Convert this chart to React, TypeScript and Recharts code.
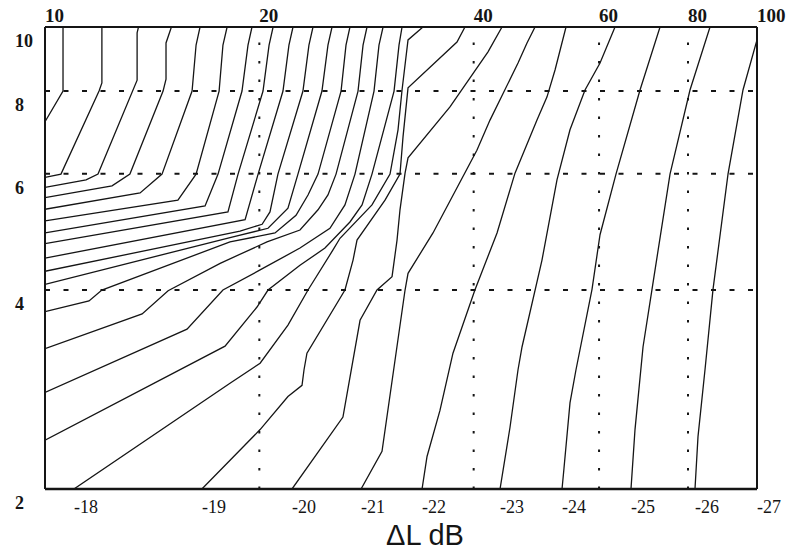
import { LineChart, Line, XAxis, YAxis, ReferenceLine } from "recharts";

// axis ticks
const X_TICKS = [10, 20, 40, 60, 80, 100];
const Y_TICKS = [2, 4, 6, 8, 10];
const GRID_X = [20, 40, 60, 80];
const GRID_Y = [4, 6, 8];

// contour lines of ΔL (dB), each as [x, y] pairs running from the left/bottom edge to the top/right edge
const dL3 = [[10, 7.19], [10.6, 8.0], [10.6, 10]];
const dL4 = [[10, 5.92], [10.53, 5.99], [11.91, 8.0], [12.02, 8.23], [12.02, 10]];
const dL5 = [[10, 5.72], [11.42, 5.87], [11.87, 5.99], [13.47, 8.31], [13.47, 9.8], [13.53, 10]];
const dL6 = [[10, 5.52], [12.42, 5.75], [13.16, 5.99], [14.65, 8.0], [14.79, 8.34], [14.79, 9.46], [15.05, 10]];
const dL7 = [[10, 5.3], [13.6, 5.61], [14.6, 5.99], [16.09, 8.0], [16.3, 9.39], [16.51, 10]];
const dL8 = [[10, 5.09], [15.37, 5.47], [16.3, 5.99], [17.56, 8.0], [17.78, 9.39], [18.02, 10]];
const dL9 = [[10, 4.88], [16.78, 5.36], [17.5, 5.99], [18.91, 8.0], [19.28, 9.39], [19.53, 10]];
const dL10 = [[10, 4.7], [18.07, 5.25], [18.67, 5.99], [20.24, 8.0], [20.64, 9.39], [20.91, 10]];
const dL11 = [[10, 4.47], [19.1, 5.11], [19.92, 5.99], [21.59, 8.0], [22.01, 9.39], [22.3, 10]];
const dL12 = [[10, 4.27], [18.79, 4.91], [20.18, 5.03], [20.7, 5.25], [21.24, 5.99], [23.03, 8.0], [23.48, 9.39], [23.79, 10]];
const dL13 = [[10, 4.08], [18.31, 4.81], [20.57, 4.96], [21.94, 5.32], [22.66, 5.99], [24.49, 8.0], [24.97, 9.39], [25.3, 10]];
const dL14 = [[10, 3.71], [11.53, 3.85], [12.02, 4.0], [18.19, 4.73], [21.04, 4.88], [22.52, 5.19], [23.41, 5.57], [24.18, 5.99], [26.05, 8.0], [26.47, 9.39], [26.81, 10]];
const dL15 = [[10, 3.26], [13.69, 3.68], [14.89, 3.99], [17.62, 4.39], [20.5, 4.73], [22.81, 4.93], [24.18, 5.29], [24.97, 5.57], [25.63, 5.99], [27.52, 8.0], [27.97, 9.39], [28.33, 10]];
const dL16 = [[10, 2.8], [15.83, 3.49], [17.78, 4.0], [20.05, 4.29], [22.81, 4.63], [25.13, 4.96], [26.38, 5.38], [27.25, 5.99], [28.98, 8.0], [29.45, 9.39], [29.84, 10]];
const dL17 = [[10, 2.37], [17.9, 3.29], [19.85, 3.77], [20.57, 4.0], [22.81, 4.36], [24.73, 4.63], [26.81, 5.07], [27.88, 5.38], [28.79, 5.99], [30.92, 8.0], [31.42, 9.39], [31.73, 10]];
const dL18 = [[10.98, 2], [18.19, 2.89], [20.05, 3.1], [21.94, 3.54], [23.41, 4.0], [25.38, 4.6], [25.96, 4.79], [28.79, 5.38], [30.52, 5.99], [31.32, 6.99], [31.73, 8.03], [32.35, 9.56], [33.95, 10]];
const dL19 = [[16.61, 2], [20.05, 2.46], [21.94, 2.76], [22.96, 2.87], [23.11, 3.03], [23.33, 3.21], [26.38, 4.0], [27.08, 4.44], [27.43, 4.76], [30.03, 5.47], [31.52, 5.99], [31.83, 6.82], [32.35, 8.09], [37.9, 9.49], [38.89, 10]];
const dL20 = [[22.23, 2], [26.21, 2.57], [27.7, 3.6], [29.26, 4.0], [30.72, 4.19], [31.22, 4.76], [31.52, 5.29], [32.04, 6.01], [32.35, 6.34], [37.05, 7.57], [41.9, 9.17], [43.84, 10]];
const dL21 = [[27.79, 2], [29.74, 2.28], [32.04, 4.0], [32.35, 4.24], [35.07, 4.88], [40.42, 6.51], [42.17, 7.23], [46.17, 8.82], [47.53, 9.46], [48.78, 10]];
const dL22 = [[33.85, 2], [34.4, 2.24], [35.87, 2.63], [37.41, 3.21], [40.16, 4.0], [43.14, 4.88], [45.72, 6.01], [49.09, 7.23], [50.71, 7.84], [52.04, 8.61], [53.92, 10]];
const dL23 = [[43.56, 2], [44.99, 2.48], [46.17, 3.03], [46.77, 3.28], [49.89, 4.44], [52.37, 5.87], [54.62, 6.99], [57.34, 8.03], [60.19, 8.82], [63.18, 10]];
const dL24 = [[53.23, 2], [53.57, 2.15], [54.62, 2.7], [55.69, 3.03], [58.65, 4.01], [60.19, 4.85], [63.38, 5.99], [68.5, 8.03], [73.08, 10]];
const dL25 = [[66.53, 2], [67.4, 2.46], [69.17, 3.28], [71.21, 4.01], [75.48, 5.99], [80.52, 8.03], [85.9, 10]];
const dL26 = [[81.83, 2], [82.63, 2.4], [84.52, 3.03], [86.74, 4.01], [91.05, 5.99], [95.57, 8.03], [100, 9.56]];
const dL27 = [[100, 2], [100, 10]];

const CONTOURS = [
  { level: -3, pts: dL3 },
  { level: -4, pts: dL4 },
  { level: -5, pts: dL5 },
  { level: -6, pts: dL6 },
  { level: -7, pts: dL7 },
  { level: -8, pts: dL8 },
  { level: -9, pts: dL9 },
  { level: -10, pts: dL10 },
  { level: -11, pts: dL11 },
  { level: -12, pts: dL12 },
  { level: -13, pts: dL13 },
  { level: -14, pts: dL14 },
  { level: -15, pts: dL15 },
  { level: -16, pts: dL16 },
  { level: -17, pts: dL17 },
  { level: -18, pts: dL18 },
  { level: -19, pts: dL19 },
  { level: -20, pts: dL20 },
  { level: -21, pts: dL21 },
  { level: -22, pts: dL22 },
  { level: -23, pts: dL23 },
  { level: -24, pts: dL24 },
  { level: -25, pts: dL25 },
  { level: -26, pts: dL26 },
  { level: -27, pts: dL27 },
];

// contours that reach the bottom edge get their level written next to it
const bottomTicks = CONTOURS.filter((c) => c.pts[0][1] === 2).map((c) => ({
  x: c.pts[0][0],
  label: String(c.level),
}));

const serif = '"Liberation Serif", "Times New Roman", serif';
const INK = "#151515";

function TopTick(props: any) {
  const { x, y, payload } = props;
  return (
    <text x={x} y={y - 5} fontFamily={serif} fontWeight="bold" fontSize={19} fill={INK} textAnchor="start">
      {payload.value}
    </text>
  );
}

function LeftTick(props: any) {
  const { x, y, payload } = props;
  return (
    <text x={x - 30} y={y + 20} fontFamily={serif} fontWeight="bold" fontSize={18} fill={INK} textAnchor="start">
      {payload.value}
    </text>
  );
}

function BottomTick(props: any) {
  const { x, y, payload } = props;
  const t = bottomTicks.find((b) => Math.abs(b.x - payload.value) < 1e-6);
  return (
    <text x={x} y={y + 24} fontFamily={serif} fontSize={18} fill={INK} textAnchor="start">
      {t ? t.label : ""}
    </text>
  );
}

export default function App() {
  return (
    <div style={{ position: "absolute", left: 0, top: 0, width: 795, height: 552, background: "#fff" }}>
      <LineChart width={795} height={552} margin={{ top: 0, right: 38, bottom: 23, left: 0 }}>
        <XAxis
          xAxisId="top"
          orientation="top"
          type="number"
          dataKey="x"
          scale="log"
          domain={[10, 100]}
          allowDataOverflow
          ticks={X_TICKS}
          interval={0}
          height={27}
          tickSize={0}
          tickMargin={0}
          tickLine={false}
          axisLine={{ stroke: INK, strokeWidth: 2 }}
          tick={(p: any) => <TopTick {...p} />}
        />
        <XAxis
          xAxisId="bottom"
          orientation="bottom"
          type="number"
          dataKey="x"
          scale="log"
          domain={[10, 100]}
          allowDataOverflow
          ticks={bottomTicks.map((b) => b.x)}
          interval={0}
          height={40}
          tickSize={0}
          tickMargin={0}
          tickLine={false}
          axisLine={{ stroke: INK, strokeWidth: 2.5 }}
          tick={(p: any) => <BottomTick {...p} />}
        />
        <YAxis
          yAxisId="left"
          type="number"
          scale="log"
          domain={[2, 10]}
          allowDataOverflow
          ticks={Y_TICKS}
          interval={0}
          width={45}
          tickSize={0}
          tickMargin={0}
          tickLine={false}
          axisLine={{ stroke: INK, strokeWidth: 2 }}
          tick={(p: any) => <LeftTick {...p} />}
        />
        {GRID_X.map((v) => (
          <ReferenceLine
            key={`gx${v}`}
            x={v}
            xAxisId="bottom"
            yAxisId="left"
            stroke={INK}
            strokeWidth={2}
            strokeDasharray="2.5 16"
          />
        ))}
        {GRID_Y.map((v) => (
          <ReferenceLine
            key={`gy${v}`}
            y={v}
            xAxisId="bottom"
            yAxisId="left"
            stroke={INK}
            strokeWidth={2}
            strokeDasharray="5 13.5"
          />
        ))}
        <ReferenceLine x={100} xAxisId="bottom" yAxisId="left" stroke={INK} strokeWidth={2} />
        {CONTOURS.map((c) => (
          <Line
            key={c.level}
            xAxisId="bottom"
            yAxisId="left"
            data={c.pts.map(([x, y]) => ({ x, y }))}
            dataKey="y"
            type="linear"
            stroke={INK}
            strokeWidth={1.3}
            dot={false}
            activeDot={false}
            isAnimationActive={false}
          />
        ))}
      </LineChart>
      <div
        style={{
          position: "absolute",
          left: 325,
          top: 520,
          width: 200,
          textAlign: "center",
          fontFamily: '"Liberation Sans", Arial, sans-serif',
          fontSize: 29,
          lineHeight: "30px",
          color: INK,
        }}
      >
        ΔL dB
      </div>
    </div>
  );
}
